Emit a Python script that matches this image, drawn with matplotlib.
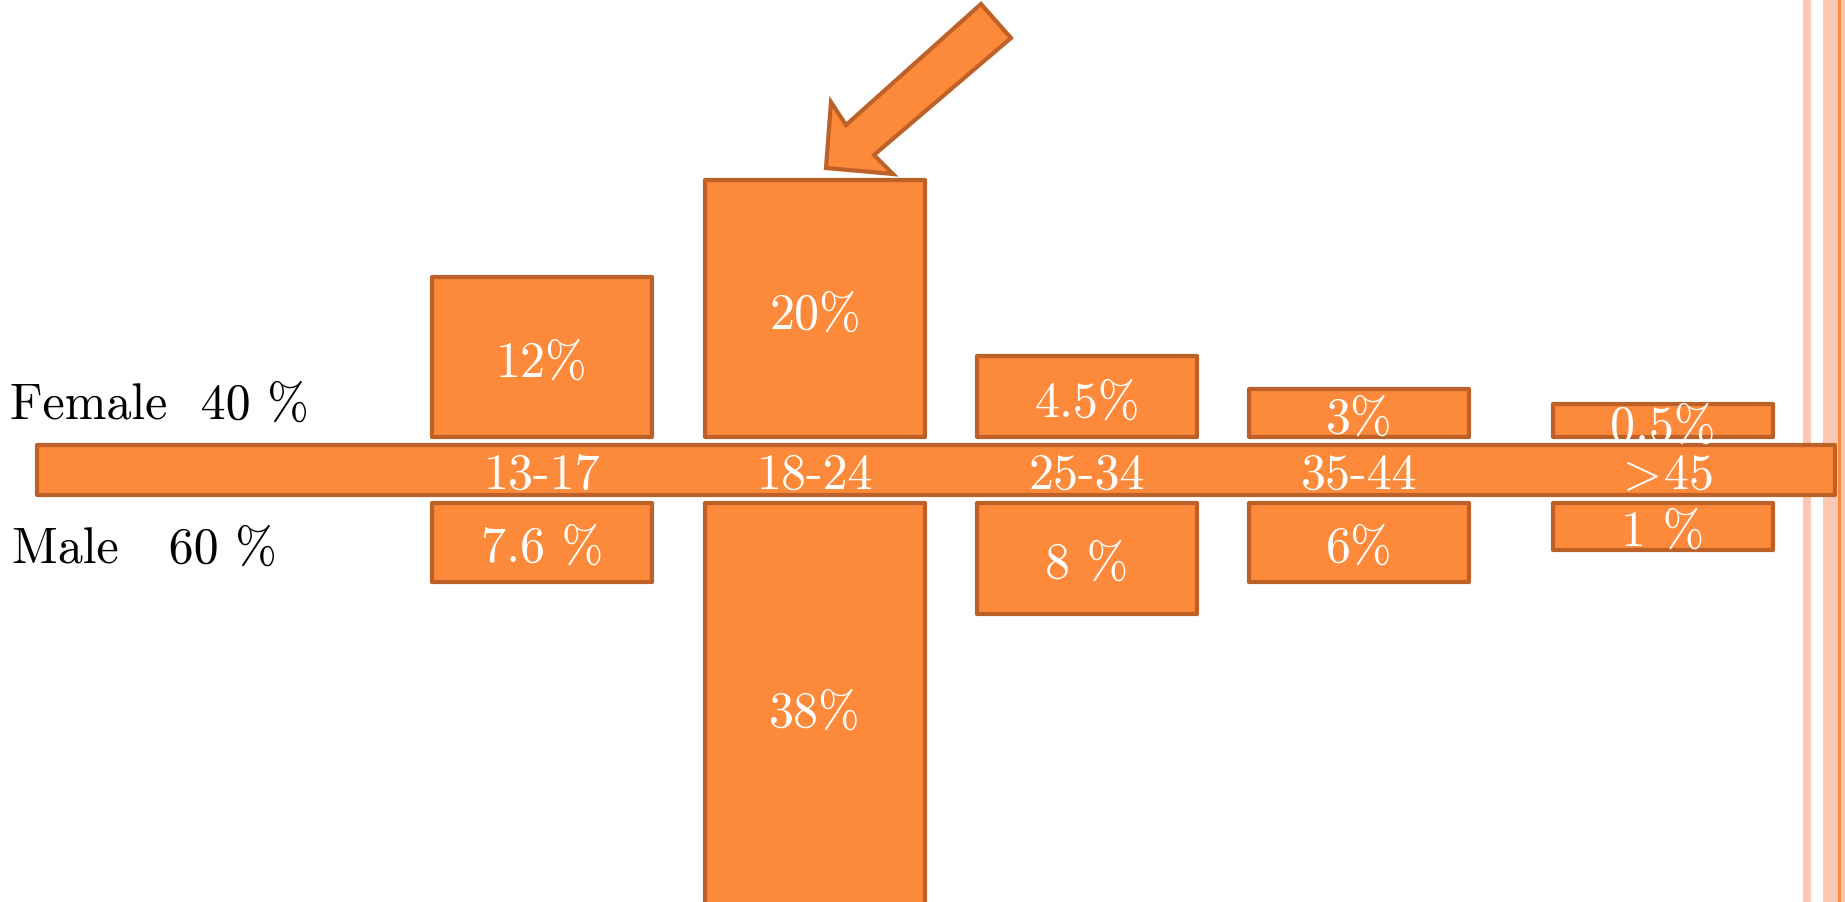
import matplotlib
matplotlib.use("Agg")
import matplotlib.pyplot as plt
from matplotlib.patches import Polygon, Rectangle

plt.rcParams['mathtext.fontset'] = 'cm'

# ---- data ----
age_groups = ["13-17", "18-24", "25-34", "35-44", r"$>\!$45"]
female_labels = ["12%", "20%", "4.5%", "3%", "0.5%"]
male_labels = ["7.6 %", "38%", "8 %", "6%", "1 %"]
# bar heights as drawn in the infographic (not proportional to the values)
female_heights = [160, 257, 81, 48, 33]
male_heights = [79, 410, 111, 79, 47]
female_total = "Female  40 %"
male_total = "Male   60 %"

FILL = "#FD893A"
EDGE = "#BE6128"
FONT = "cmr10"

fig = plt.figure(figsize=(18.45, 9.02), dpi=100)
ax = fig.add_axes([0, 0, 1, 1])
ax.set_xlim(0, 1845)
ax.set_ylim(470 - 902, 470)
ax.axis("off")

# decorative stripes on the right
ax.axvspan(1803, 1811, color="#FCC8B3", zorder=0, lw=0)
ax.axvspan(1823, 1845, color="#FCC8B3", zorder=0, lw=0)
ax.axvspan(1838, 1840.5, color="#FB8A3C", zorder=0, lw=0)

x_centers = [542, 815, 1087, 1359, 1663]
bar_w = 220
gap = 33
lw = 3.0

ax.bar(x_centers, female_heights, width=bar_w, bottom=gap, color=FILL,
       edgecolor=EDGE, linewidth=lw, joinstyle="round", zorder=2)
ax.bar(x_centers, [-h for h in male_heights], width=bar_w, bottom=-gap,
       color=FILL, edgecolor=EDGE, linewidth=lw, joinstyle="round", zorder=2)

# central band
ax.add_patch(Rectangle((37, -25), 1798, 50, facecolor=FILL, edgecolor=EDGE,
                       linewidth=lw, joinstyle="round", zorder=3))

fs = 36
for x, lab in zip(x_centers, age_groups):
    ax.text(x, -6, lab, ha="center", va="center", color="white",
            fontsize=fs, family=FONT, zorder=4)
for x, h, lab in zip(x_centers, female_heights, female_labels):
    ax.text(x, gap + h / 2 - 7, lab, ha="center", va="center", color="white",
            fontsize=fs, family=FONT, zorder=4)
for x, h, lab in zip(x_centers, male_heights, male_labels):
    ax.text(x, -gap - h / 2 - 6, lab, ha="center", va="center", color="white",
            fontsize=fs, family=FONT, zorder=4)

ax.text(10, 64, female_total, ha="left", va="center", color="black",
        fontsize=fs, family=FONT)
ax.text(12, -80, male_total, ha="left", va="center", color="black",
        fontsize=fs, family=FONT)

# arrow pointing at the 18-24 bar
arrow_pts = [(981, 466), (1011, 432), (874, 315), (893, 296),
             (826, 302), (831, 368), (846, 345)]
ax.add_patch(Polygon(arrow_pts, closed=True, facecolor=FILL, edgecolor=EDGE,
                     linewidth=lw, joinstyle="miter", zorder=5))

fig.savefig("out.png", dpi=100)
